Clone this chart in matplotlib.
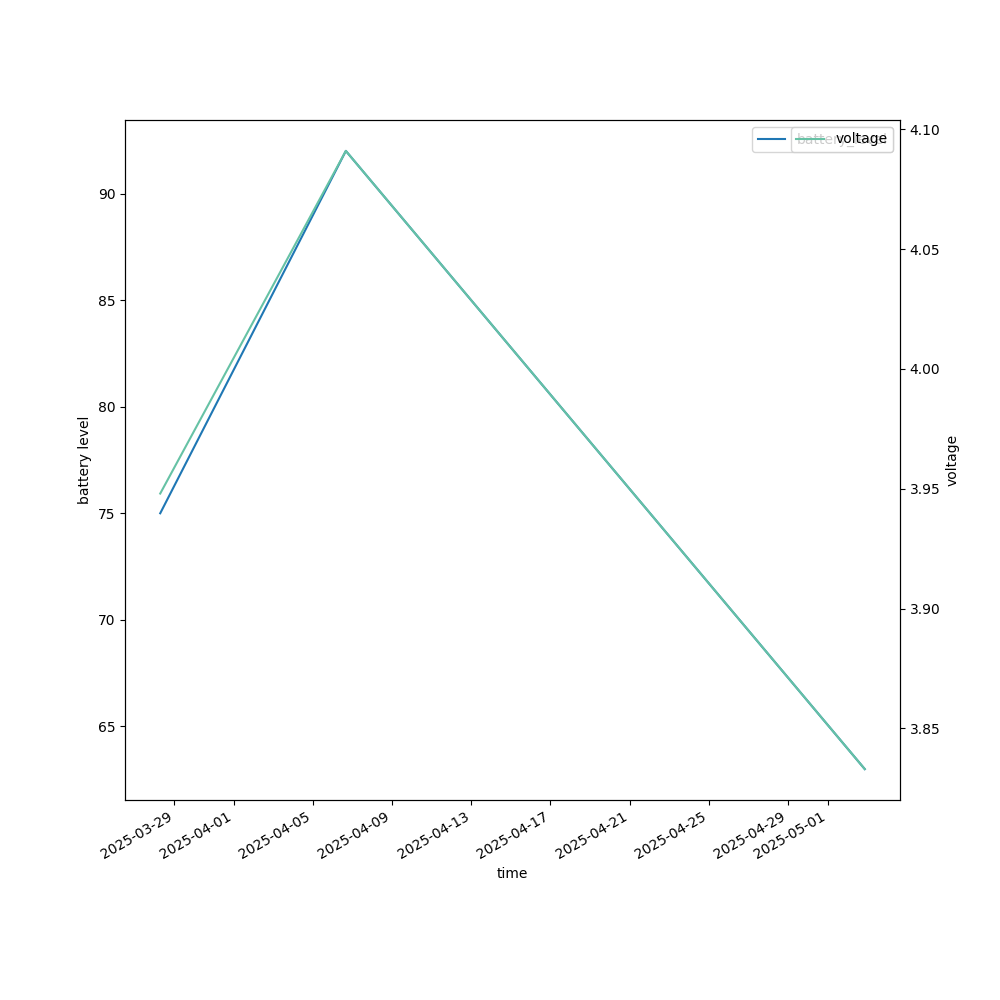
import matplotlib
matplotlib.use("Agg")
import matplotlib.pyplot as plt
import numpy as np
import pandas as pd

times = pd.to_datetime(["2025-03-28 07:00", "2025-04-06 16:00", "2025-05-02 21:00"])
battery_level = [75, 92, 63]
voltage = [3.948, 4.091, 3.833]

fig, ax1 = plt.subplots(figsize=(10, 10), dpi=100)
ax1.plot(times, battery_level, color="tab:blue", label="battery_level")
ax1.set_xlabel("time")
ax1.set_ylabel("battery level")
ax1.legend(loc="upper right")

ax2 = ax1.twinx()
ax2.plot(times, voltage, color="#66c2a5", label="voltage")
ax2.set_ylabel("voltage")
ax2.legend(loc="upper right")

fig.autofmt_xdate()
fig.savefig("out.png")
